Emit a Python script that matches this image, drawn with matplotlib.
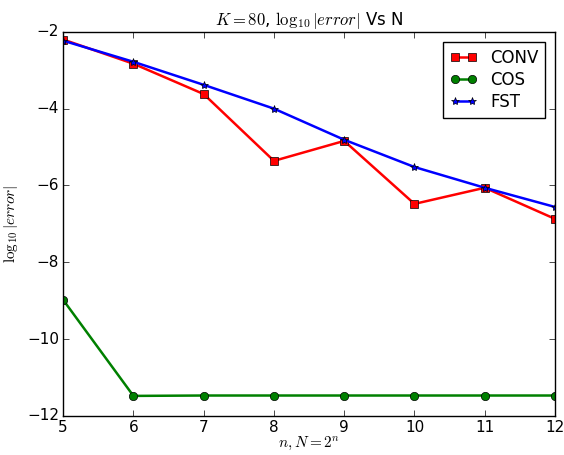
import matplotlib
matplotlib.use("Agg")
import matplotlib.pyplot as plt

plt.style.use("classic")

n = [5, 6, 7, 8, 9, 10, 11, 12]
conv = [-2.20, -2.83, -3.62, -5.36, -4.84, -6.48, -6.06, -6.87]
cos = [-8.98, -11.48, -11.47, -11.47, -11.47, -11.47, -11.47, -11.47]
fst = [-2.23, -2.78, -3.38, -4.00, -4.81, -5.52, -6.06, -6.56]

fig = plt.figure(figsize=(5.64, 4.55), dpi=100)
ax = fig.add_subplot(111)
fig.subplots_adjust(left=0.112, right=0.984, top=0.930, bottom=0.086)

ax.plot(n, conv, "r-s", lw=1.8, ms=6, label="CONV")
ax.plot(n, cos, "g-o", lw=1.8, ms=6, label="COS")
ax.plot(n, fst, "b-*", lw=1.8, ms=6, label="FST")

ax.set_xlim(5, 12)
ax.set_ylim(-12, -2)
ax.tick_params(labelsize=11, pad=3)
ax.set_title(r"$K=80$, $\log_{10}|error|$ Vs N", fontsize=12)
ax.set_xlabel(r"$n,N=2^n$", fontsize=11, labelpad=0)
ax.set_ylabel(r"$\log_{10}|error|$", fontsize=11)
ax.legend(loc="upper right", fontsize=12, numpoints=2,
          labelspacing=0.25, handlelength=1.6, borderaxespad=0.6)

fig.savefig("out.png", dpi=100)
